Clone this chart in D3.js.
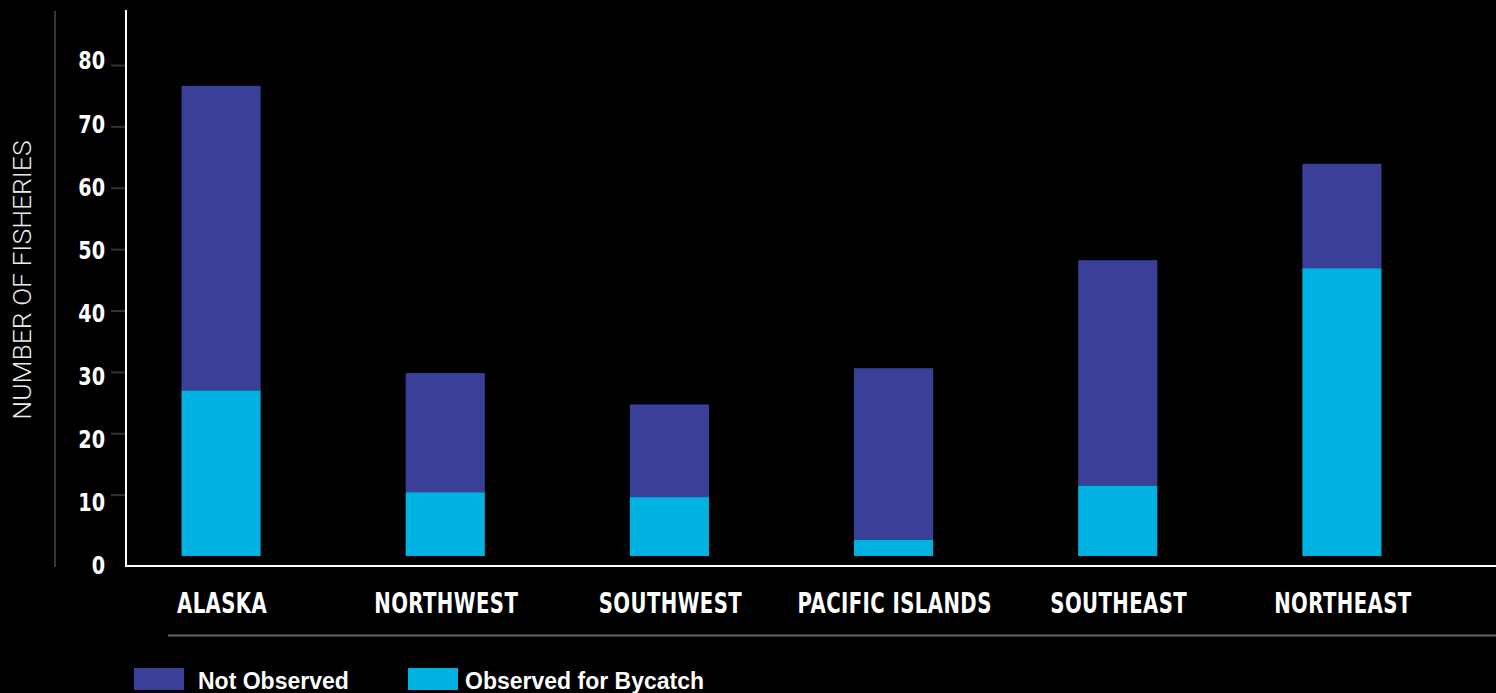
<!DOCTYPE html>
<html>
<head>
<meta charset="utf-8">
<script src="https://cdn.jsdelivr.net/npm/d3@7"></script>
<style>
  html, body { margin: 0; padding: 0; background: #000; }
  svg { display: block; }
</style>
</head>
<body>
<svg id="chart" width="1496" height="693"></svg>
<script>
// ---- data ----
const categories = ["ALASKA", "NORTHWEST", "SOUTHWEST", "PACIFIC ISLANDS", "SOUTHEAST", "NORTHEAST"];
const observed = [27, 10.4, 9.6, 2.7, 11.5, 46.9];
const notObserved = [49.6, 19.4, 15.1, 27.9, 36.7, 17.0];
const yTickValues = [0, 10, 20, 30, 40, 50, 60, 70, 80];
const seriesNames = ["Not Observed", "Observed for Bycatch"];
const yTitle = "NUMBER OF FISHERIES";

// ---- setup ----
const svg = d3.select("#chart");
const W = 1496, H = 693;
svg.append("rect").attr("width", W).attr("height", H).attr("fill", "#000");

const colors = { notObserved: "#3a3f98", observed: "#00b2e2" };

const x = d3.scaleBand().domain(categories).range([109, 1454])
  .paddingInner(0.647).paddingOuter(0.3235);
const y = d3.scaleLinear().domain([0, 80]).range([556, 65]);
const yLab = d3.scaleLinear().domain([0, 80]).range([565, 60.3]);

const rows = categories.map((c, i) => ({ cat: c, observed: observed[i], notObserved: notObserved[i] }));
const stack = d3.stack().keys(["observed", "notObserved"])(rows);

// decorative gray vertical line
svg.append("line").attr("x1", 55).attr("x2", 55).attr("y1", 11).attr("y2", 567)
  .attr("stroke", "#4a4a4a").attr("stroke-width", 1.5);

// bars
svg.append("g").selectAll("g").data(stack).join("g")
  .attr("fill", d => colors[d.key])
  .selectAll("rect").data(d => d).join("rect")
  .attr("x", d => x(d.data.cat))
  .attr("width", x.bandwidth())
  .attr("y", d => y(d[1]))
  .attr("height", d => y(d[0]) - y(d[1]));

// tick marks
const tickAxis = d3.axisLeft(y).tickValues(yTickValues.filter(v => v > 0))
  .tickSize(14).tickFormat("");
const gt = svg.append("g").attr("transform", "translate(125,0)").call(tickAxis);
gt.select(".domain").remove();
gt.selectAll(".tick line").attr("stroke", "#333").attr("stroke-width", 2);

// tick labels
const labAxis = d3.axisLeft(yLab).tickValues(yTickValues).tickSize(0).tickPadding(0);
const gl = svg.append("g").attr("transform", "translate(105,0)").call(labAxis);
gl.select(".domain").remove();
gl.selectAll(".tick text")
  .attr("fill", "#fff")
  .attr("x", 0)
  .attr("dy", "0.36em")
  .attr("transform", "scale(0.8,1)")
  .style("font-family", "'DejaVu Sans', sans-serif")
  .style("font-weight", "bold")
  .style("font-size", "24px");

// axes lines (white)
svg.append("line").attr("x1", 126).attr("x2", 126).attr("y1", 10).attr("y2", 567)
  .attr("stroke", "#fff").attr("stroke-width", 2);
svg.append("line").attr("x1", 125).attr("x2", W).attr("y1", 566).attr("y2", 566)
  .attr("stroke", "#fff").attr("stroke-width", 2);

// category labels
svg.append("g").selectAll("g").data(categories).join("g")
  .attr("transform", d => `translate(${x(d) + x.bandwidth() / 2 + 1},613)`)
  .append("text")
  .attr("transform", "scale(0.68,1)")
  .attr("text-anchor", "middle")
  .attr("fill", "#fff")
  .style("font-family", "'DejaVu Sans', sans-serif")
  .style("font-weight", "bold")
  .style("font-size", "29px")
  .style("letter-spacing", "0.6px")
  .text(d => d);

// bottom gray line
svg.append("line").attr("x1", 168).attr("x2", W).attr("y1", 635.5).attr("y2", 635.5)
  .attr("stroke", "#666").attr("stroke-width", 2);

// y title
svg.append("text")
  .attr("transform", "translate(31,280) rotate(-90)")
  .attr("text-anchor", "middle")
  .attr("fill", "#ececec")
  .style("font-family", "Roboto, 'Liberation Sans', sans-serif")
  .style("font-weight", 300)
  .style("font-size", "26.5px")
  .text(yTitle);

// legend
const legendX = [134, 408];
const legendColors = [colors.notObserved, colors.observed];
const lg = svg.append("g").selectAll("g").data(seriesNames).join("g")
  .attr("transform", (d, i) => `translate(${legendX[i]},668)`);
lg.append("rect").attr("width", 50).attr("height", 22).attr("fill", (d, i) => legendColors[i]);
lg.append("text").attr("x", (d, i) => i === 0 ? 64 : 57).attr("y", 20.5)
  .attr("fill", "#fff")
  .style("font-family", "'Liberation Sans', Arial, sans-serif")
  .style("font-weight", "bold")
  .style("font-size", "23px")
  .text(d => d);
</script>
</body>
</html>
